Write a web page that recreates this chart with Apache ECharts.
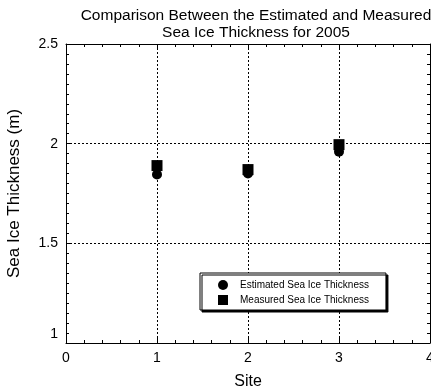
<!DOCTYPE html>
<html><head><meta charset="utf-8">
<script src="https://cdn.jsdelivr.net/npm/echarts@6/dist/echarts.min.js"></script>
<style>html,body{margin:0;padding:0;background:#fff}#c{width:431px;height:391px}</style>
</head><body><div id="c"></div>
<script>
const sites = [1, 2, 3];
const estimated = [1.845, 1.85, 1.96];
const measured = [1.89, 1.87, 1.995];
const seriesNames = ['Estimated Sea Ice Thickness', 'Measured Sea Ice Thickness'];
const titleText = 'Comparison Between the Estimated and Measured\nSea Ice Thickness for 2005';

const FONT = 'Liberation Sans, Arial, Helvetica, sans-serif';
const chart = echarts.init(document.getElementById('c'));
const dotted = {show: true, lineStyle: {color: '#000', type: [2, 2], width: 1}};
function xAx(pos, main) {
  return {
    type: 'value', position: pos, min: 0, max: 4, interval: 1,
    name: main ? 'Site' : '', nameLocation: 'middle', nameGap: 31,
    nameTextStyle: {fontFamily: FONT, fontSize: 16, color: '#000'},
    axisLine: {show: true, onZero: false, lineStyle: {color: '#000', width: 1}},
    axisTick: {show: true, inside: true, length: 5, lineStyle: {color: '#000'}},
    minorTick: {show: true, splitNumber: 5, length: 3, lineStyle: {color: '#000'}},
    axisLabel: {show: main, color: '#000', fontFamily: FONT, fontSize: 14, margin: 8},
    splitLine: main ? dotted : {show: false},
    minorSplitLine: {show: false}
  };
}
function yAx(pos, main) {
  return {
    type: 'value', position: pos, min: 1, max: 2.5, interval: 0.5,
    name: main ? 'Sea Ice Thickness (m)' : '', nameLocation: 'middle', nameGap: 43,
    nameTextStyle: {fontFamily: FONT, fontSize: 17, color: '#000'},
    axisLine: {show: true, onZero: false, lineStyle: {color: '#000', width: 1}},
    axisTick: {show: true, inside: true, length: 5, lineStyle: {color: '#000'}},
    minorTick: {show: true, splitNumber: 10, length: 3, lineStyle: {color: '#000'}},
    axisLabel: {show: main, color: '#000', fontFamily: FONT, fontSize: 14, margin: 8,
      formatter: v => v === 1 ? '{lo|1}' : String(v),
      rich: {lo: {fontFamily: FONT, fontSize: 14, color: '#000', padding: [0, 0, 18, 0]}}},
    splitLine: main ? dotted : {show: false}
  };
}
chart.setOption({
  animation: false,
  backgroundColor: '#fff',
  title: {text: titleText, left: 251, textAlign: 'center', top: 2,
    textStyle: {fontFamily: FONT, fontSize: 15.5, fontWeight: 'normal', color: '#000', lineHeight: 17}},
  grid: {left: 66, right: 1, top: 44, bottom: 48, containLabel: false, outerBoundsMode: 'none'},
  xAxis: [xAx('bottom', true), xAx('top', false)],
  yAxis: [yAx('left', true), yAx('right', false)],
  legend: {
    orient: 'vertical', left: 200, top: 273,
    padding: [7, 17, 5, 18], itemGap: 5, itemWidth: 10, itemHeight: 10,
    backgroundColor: '#fff', borderColor: '#000', borderWidth: 1,
    shadowColor: '#000', shadowBlur: 0, shadowOffsetX: 2, shadowOffsetY: 2,
    textStyle: {fontFamily: FONT, fontSize: 10, color: '#000', padding: [0, 0, 0, 7]},
    data: [{name: seriesNames[0], icon: 'circle'}, {name: seriesNames[1], icon: 'rect'}]
  },
  series: [
    {name: seriesNames[0], type: 'scatter', symbol: 'circle', symbolSize: 10,
      itemStyle: {color: '#000', opacity: 1}, data: sites.map((s, i) => [s, estimated[i]])},
    {name: seriesNames[1], type: 'scatter', symbol: 'rect', symbolSize: 11,
      itemStyle: {color: '#000', opacity: 1}, data: sites.map((s, i) => [s, measured[i]])}
  ]
});
</script></body></html>
